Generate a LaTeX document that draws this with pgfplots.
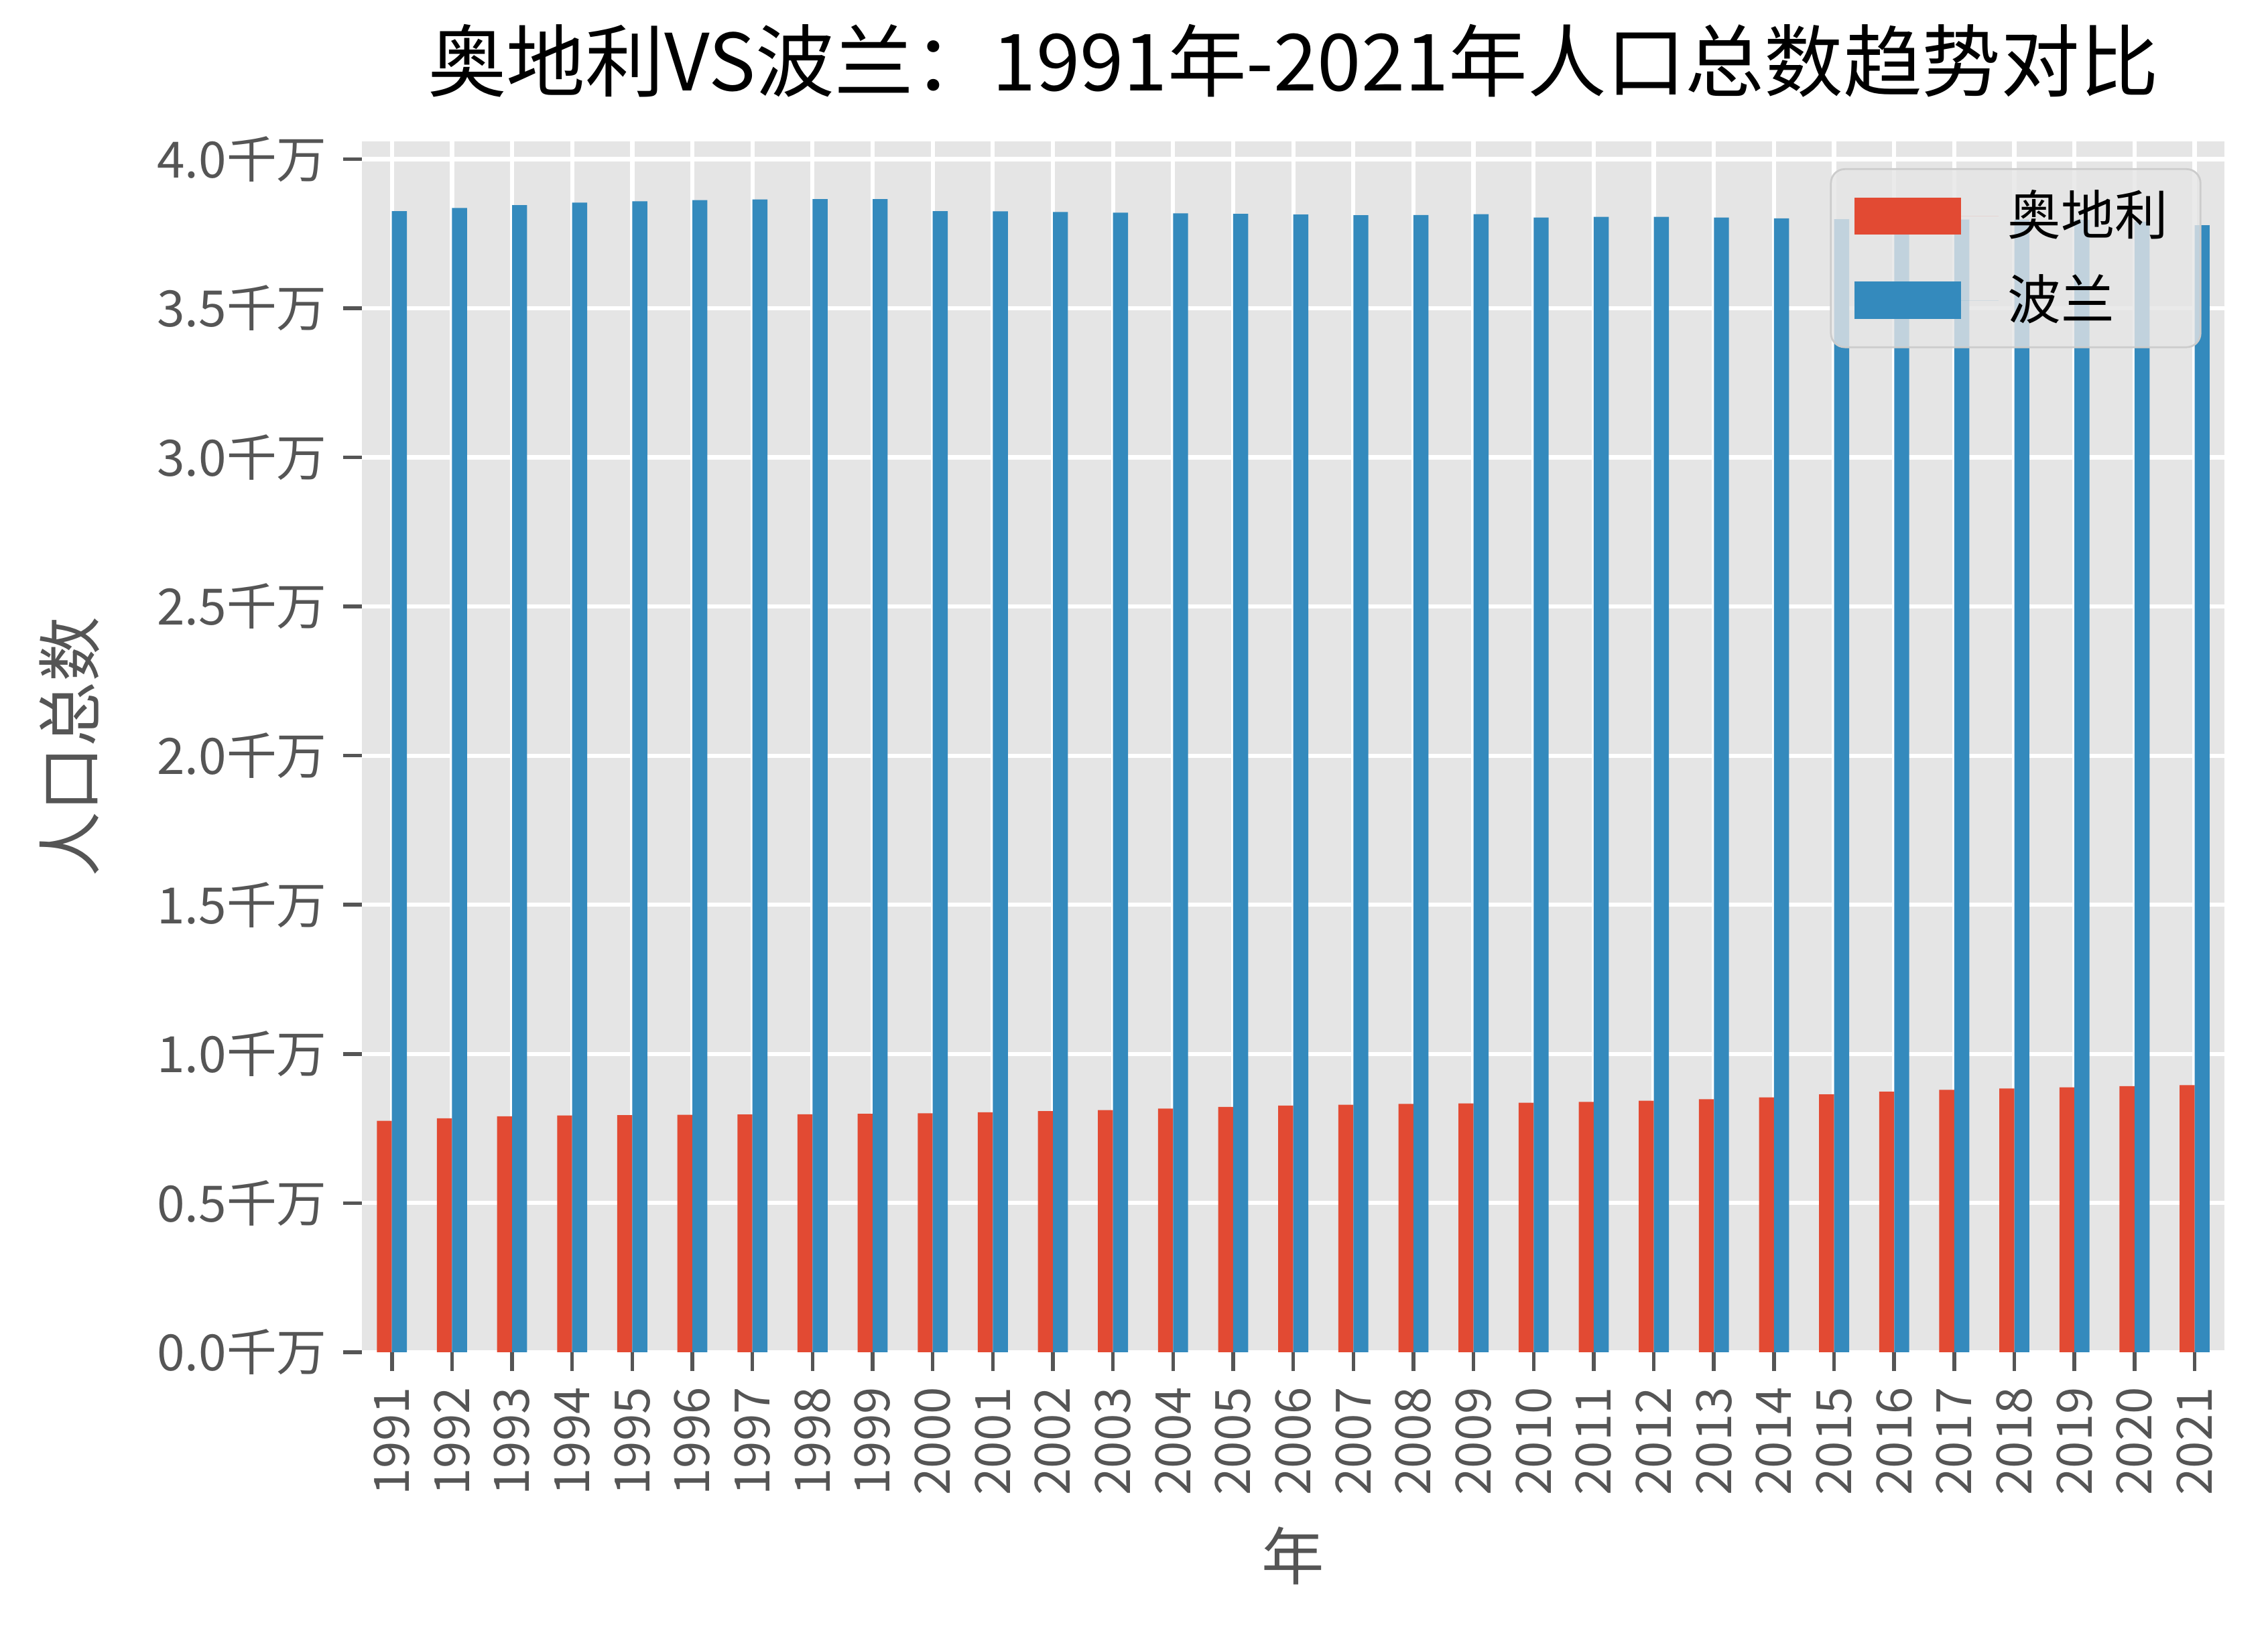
\documentclass[border=0pt]{standalone}
\usepackage{fontspec}
\setmainfont{Noto Sans CJK SC}
\usepackage{pgfplots}
\pgfplotsset{compat=1.18}
\usepackage{pgfplotstable}
\definecolor{atred}{HTML}{E24A33}
\definecolor{plblue}{HTML}{348ABD}
\definecolor{bggrey}{HTML}{E5E5E5}
\definecolor{txtgrey}{HTML}{555555}
\definecolor{legedge}{HTML}{CCCCCC}

% population in units of 10 million (千万)
\pgfplotstableread{
idx year austria poland
0  1991 0.7755 3.8253
1  1992 0.7841 3.8363
2  1993 0.7906 3.8460
3  1994 0.7936 3.8542
4  1995 0.7948 3.8585
5  1996 0.7959 3.8624
6  1997 0.7968 3.8650
7  1998 0.7977 3.8660
8  1999 0.7992 3.8658
9  2000 0.8012 3.8258
10 2001 0.8042 3.8248
11 2002 0.8082 3.8230
12 2003 0.8118 3.8205
13 2004 0.8169 3.8182
14 2005 0.8225 3.8165
15 2006 0.8268 3.8141
16 2007 0.8295 3.8121
17 2008 0.8322 3.8126
18 2009 0.8341 3.8152
19 2010 0.8363 3.8043
20 2011 0.8392 3.8064
21 2012 0.8430 3.8063
22 2013 0.8479 3.8040
23 2014 0.8546 3.8012
24 2015 0.8643 3.7986
25 2016 0.8737 3.7970
26 2017 0.8797 3.7974
27 2018 0.8840 3.7974
28 2019 0.8880 3.7965
29 2020 0.8917 3.7899
30 2021 0.8956 3.7781
}\data

\begin{document}
\begin{tikzpicture}
\begin{axis}[
  name=ax,
  width=400bp, height=260bp, scale only axis,
  xmin=-0.5, xmax=30.5, ymin=0, ymax=4.059,
  axis background/.style={fill=bggrey},
  axis line style={draw=none},
  grid=major, grid style={white, line width=0.9bp},
  xtick={0,...,30},
  xticklabels={1991,1992,1993,1994,1995,1996,1997,1998,1999,2000,2001,2002,2003,2004,2005,2006,2007,2008,2009,2010,2011,2012,2013,2014,2015,2016,2017,2018,2019,2020,2021},
  x tick label style={rotate=90, anchor=east, font=\fontsize{10.5}{12}\selectfont, text=txtgrey},
  ytick={0,0.5,1,1.5,2,2.5,3,3.5,4},
  yticklabels={0.0千万,0.5千万,1.0千万,1.5千万,2.0千万,2.5千万,3.0千万,3.5千万,4.0千万},
  y tick label style={font=\fontsize{10.8}{12}\selectfont, text=txtgrey},
  tick pos=left, tick align=outside, major tick length=4bp,
  tick style={txtgrey, line width=0.8bp},
  title={奥地利VS波兰：1991年-2021年人口总数趋势对比},
  title style={font=\fontsize{17}{20}\selectfont, text=black},
  xlabel={年},
  xlabel style={font=\fontsize{13.5}{16}\selectfont, text=txtgrey},
  ylabel={人口总数},
  ylabel style={font=\fontsize{14}{16}\selectfont, text=txtgrey, yshift=5.5bp},
  legend style={at={(0.9875,0.978)}, anchor=north east, fill=bggrey, fill opacity=0.8, text opacity=1, draw=legedge, draw opacity=1, rounded corners=3bp, font=\fontsize{11.5}{13}\selectfont, row sep=3bp, inner xsep=5bp, inner ysep=2.5bp},
  legend cell align=left,
  legend image code/.code={\fill[#1, fill opacity=1, sharp corners] (0bp,-4bp) rectangle (23bp,4bp); \path (0bp,0bp) -- (31bp,0bp);},
]
\addplot[ybar, bar width=0.25, bar shift=-0.125, fill=atred, draw=none] table[x=idx, y=austria]{\data};
\addlegendentry{奥地利}
\addplot[ybar, bar width=0.25, bar shift=0.125, fill=plblue, draw=none] table[x=idx, y=poland]{\data};
\addlegendentry{波兰}
\end{axis}
\pgfresetboundingbox
\path[use as bounding box] ([xshift=-77.7bp, yshift=-59bp]ax.south west) rectangle ++(487bp,349.4bp);
\end{tikzpicture}
\end{document}
